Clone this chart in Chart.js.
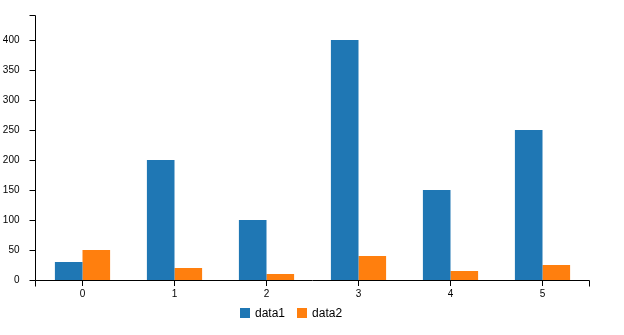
<!DOCTYPE html>
<html>
<head>
<meta charset="utf-8">
<script src="https://cdn.jsdelivr.net/npm/chart.js@4"></script>
<style>
  html, body { margin: 0; padding: 0; background: #fff; }
  #wrap { position: relative; width: 624px; height: 335px; }
  #legend { position: absolute; left: 240px; top: 306px; font: 12px "Liberation Sans", Arial, sans-serif; color: #000; white-space: nowrap; }
  #legend span.item { display: inline-block; margin-right: 12px; }
  #legend i { display: inline-block; width: 10px; height: 10px; vertical-align: -1px; margin-right: 5px; }
</style>
</head>
<body>
<div id="wrap">
  <canvas id="chart" width="624" height="335"></canvas>
  <div id="legend"></div>
</div>
<script>
// data
let categories = ['0', '1', '2', '3', '4', '5'];
let data1 = [30, 200, 100, 400, 150, 250];
let data2 = [50, 20, 10, 40, 15, 25];
let names = ['data1', 'data2'];
let colors = ['#1f77b4', '#ff7f0e'];

// c3-style axis domain paths + y ticks (axis line sits 1.5px left of the plot area)
let c3Axes = {
  id: 'c3Axes',
  afterDraw(chart) {
    let ctx = chart.ctx, a = chart.chartArea, y = chart.scales.y;
    let ax = Math.round(a.left - 1.5) + 0.5;
    let by = Math.round(a.bottom) + 0.5;
    ctx.save();
    ctx.strokeStyle = '#000';
    ctx.lineWidth = 1;
    ctx.beginPath();
    // y domain
    ctx.moveTo(ax - 6, a.top + 0.5); ctx.lineTo(ax, a.top + 0.5); ctx.lineTo(ax, by);
    // y ticks
    y.ticks.forEach(t => {
      let py = Math.round(y.getPixelForValue(t.value)) + 0.5;
      ctx.moveTo(ax - 6, py); ctx.lineTo(ax, py);
    });
    // x domain
    let rx = Math.round(a.right) + 0.5;
    ctx.moveTo(ax, by + 6); ctx.lineTo(ax, by); ctx.lineTo(rx, by); ctx.lineTo(rx, by + 6);
    ctx.stroke();
    ctx.restore();
  }
};

let font = { family: '"Liberation Sans", Arial, sans-serif', size: 10 };

let barChart = new Chart(document.getElementById('chart').getContext('2d'), {
  type: 'bar',
  data: {
    labels: categories,
    datasets: [
      { label: names[0], data: data1, backgroundColor: colors[0] },
      { label: names[1], data: data2, backgroundColor: colors[1] }
    ]
  },
  options: {
    responsive: false,
    animation: false,
    categoryPercentage: 0.6,
    barPercentage: 1,
    layout: { padding: { top: 15, right: 35.5, left: 0, bottom: 0 } },
    plugins: { legend: { display: false }, tooltip: { enabled: false } },
    scales: {
      x: {
        offset: true,
        grid: { offset: false, drawOnChartArea: false, color: '#000', tickLength: 6 },
        border: { display: false },
        ticks: { color: '#000', font: font, padding: 2, maxRotation: 0 },
        afterFit(s) { s.height = 55; }
      },
      y: {
        min: 0,
        max: 441.67,
        grid: { display: false },
        border: { display: false },
        ticks: { color: '#000', font: font, stepSize: 50, padding: 9 },
        afterBuildTicks(s) { s.ticks = s.ticks.filter(t => t.value % 50 === 0); },
        afterFit(s) { s.width = 36.5; }
      }
    }
  },
  plugins: [c3Axes]
});

let legend = document.getElementById('legend');
names.forEach((n, i) => {
  legend.innerHTML += '<span class="item"><i style="background:' + colors[i] + '"></i>' + n + '</span>';
});
</script>
</body>
</html>
